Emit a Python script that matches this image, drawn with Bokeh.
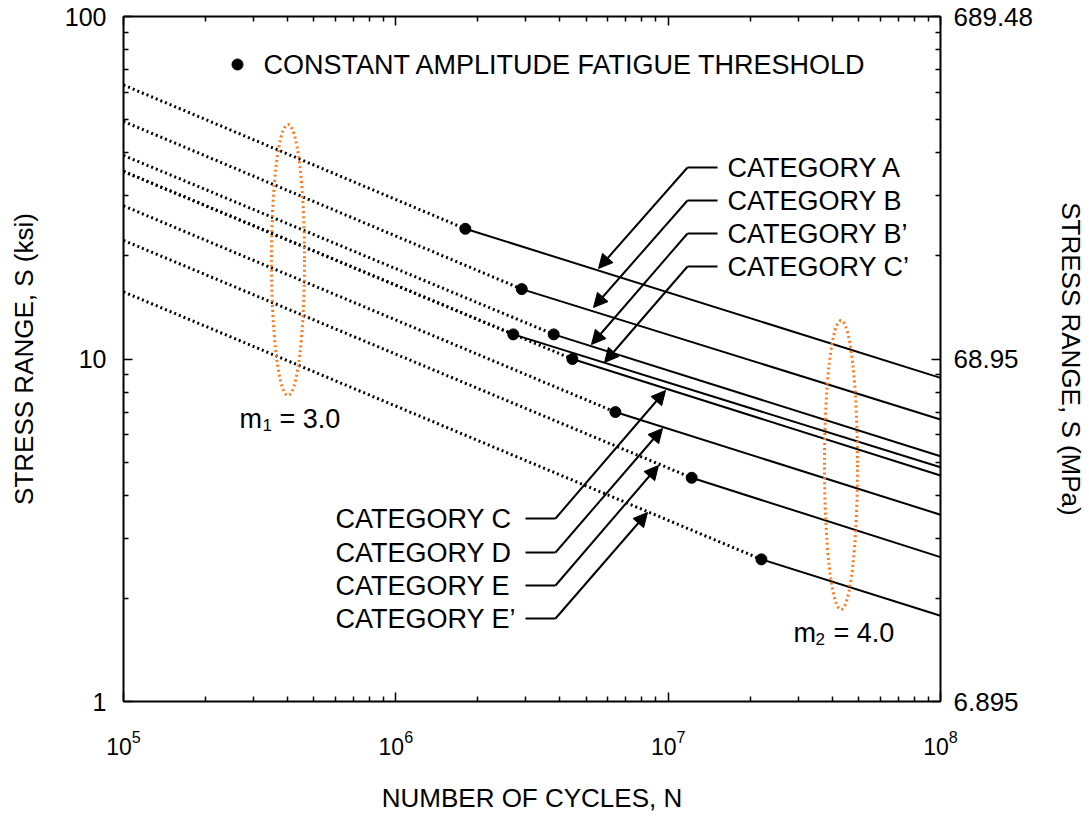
from bokeh.plotting import figure
from bokeh.models import LogAxis, FixedTicker, Arrow, NormalHead, Label, Range1d, LogTickFormatter
from bokeh.embed import file_html
from bokeh.resources import INLINE

# ---------------- data ----------------
categories = ["A", "B", "B’", "C", "C’", "D", "E", "E’"]
n_start = 1e5
n_end = 1e8
s_start = [63.1, 49.4, 39.3, 35.3, 35.3, 28.0, 22.2, 15.7]          # ksi at N = 1e5 (m1 = 3 branch)
n_threshold = [1.8e6, 2.9e6, 3.8e6, 4.45e6, 2.7e6, 6.4e6, 1.22e7, 2.2e7]
s_threshold = [24.0, 16.0, 11.8, 10.0, 11.8, 7.0, 4.5, 2.6]         # CAFT, ksi
s_end = [8.81, 6.66, 5.20, 4.57, 4.83, 3.51, 2.64, 1.78]            # ksi at N = 1e8 (m2 = 4 branch)

x_ticks = [1e5, 1e6, 1e7, 1e8]          # labelled 10^5 ... 10^8 by the log formatter
y_ticks = [1, 10, 100]
ksi_tick_labels = ["1", "10", "100"]
mpa_tick_labels = ["6.895", "68.95", "689.48"]

FONT = "Liberation Sans"
ORANGE = "#ff781e"
DOT = "2 3"
TXT = "27px"

# frame geometry in page pixels (used only to place annotations)
FX0, FX1, FY0, FY1 = 123.0, 940.0, 16.0, 701.0


def at(xp, yp):
    """page pixel -> data coordinates on the log/log frame"""
    x = 10 ** (5 + 3 * (xp - FX0) / (FX1 - FX0))
    y = 10 ** (2 - 2 * (yp - FY0) / (FY1 - FY0))
    return x, y


p = figure(width=1089, height=822, x_axis_type="log", y_axis_type="log",
           x_range=Range1d(1e5, 1e8), y_range=Range1d(1, 100),
           output_backend="svg", toolbar_location=None,
           min_border_left=123, min_border_right=149, min_border_top=16,
           min_border_bottom=121)
p.grid.visible = False
p.outline_line_color = None
p.background_fill_color = "white"
p.border_fill_color = "white"

x_minor = [m * 10 ** k for k in range(5, 8) for m in range(2, 10)]
y_minor = [m * 10 ** k for k in range(0, 2) for m in range(2, 10)]


def style(ax, size="25px"):
    ax.axis_line_width = 2
    ax.axis_line_color = "black"
    ax.major_tick_line_width = 1.5
    ax.minor_tick_line_width = 1.5
    ax.major_tick_in = 9
    ax.major_tick_out = 0
    ax.minor_tick_in = 5
    ax.minor_tick_out = 0
    ax.major_label_text_font = FONT
    ax.major_label_text_font_size = size
    ax.major_label_text_color = "black"
    ax.axis_label_text_font = FONT
    ax.axis_label_text_font_size = "26px"
    ax.axis_label_text_font_style = "normal"
    ax.axis_label_text_color = "black"


# bottom axis: 10^n labels with real superscripts from the log formatter
xa = p.xaxis[0]
xa.ticker = FixedTicker(ticks=x_ticks, minor_ticks=x_minor)
xa.formatter = LogTickFormatter()
style(xa, "23px")
xa.major_label_standoff = 28
xa.axis_label = "NUMBER OF CYCLES, N"
xa.axis_label_standoff = 25

# left axis
ya = p.yaxis[0]
ya.ticker = FixedTicker(ticks=y_ticks, minor_ticks=y_minor)
ya.major_label_overrides = dict(zip(y_ticks, ksi_tick_labels))
style(ya, "25px")
ya.major_label_standoff = 17
ya.axis_label = "STRESS RANGE, S (ksi)"
ya.axis_label_standoff = 23

# right axis (MPa equivalents of the same range)
ra = LogAxis(ticker=FixedTicker(ticks=y_ticks, minor_ticks=y_minor))
ra.major_label_overrides = dict(zip(y_ticks, mpa_tick_labels))
style(ra, "26px")
ra.major_label_standoff = 13
ra.axis_label = "STRESS RANGE, S (MPa)"
ra.axis_label_standoff = 20
p.add_layout(ra, "right")

# top axis (ticks only)
ta = LogAxis(ticker=FixedTicker(ticks=x_ticks, minor_ticks=x_minor))
style(ta, "0px")
ta.major_label_overrides = {t: "" for t in x_ticks}
ta.major_label_standoff = 0
p.add_layout(ta, "above")

# ---------------- S-N curves ----------------
p.segment(x0=[n_start] * len(categories), y0=s_start, x1=n_threshold, y1=s_threshold,
          line_color="black", line_width=3, line_dash=DOT)
p.segment(x0=n_threshold, y0=s_threshold, x1=[n_end] * len(categories), y1=s_end,
          line_color="black", line_width=2)
p.scatter(n_threshold, s_threshold, size=11, color="black")


def label(xp, yp, text, size=TXT, align="left"):
    x, y = at(xp, yp)
    p.add_layout(Label(x=x, y=y, text=text, text_font=FONT, text_font_size=size,
                       text_baseline="middle", text_align=align, text_color="black"))


# ---------------- legend entry ----------------
lx, ly = at(237, 64)
p.scatter([lx], [ly], size=11, color="black")
label(263, 64, "CONSTANT AMPLITUDE FATIGUE THRESHOLD")

# ---------------- slope ellipses ----------------
e1 = at(287.5, 259.5)
e2 = at(840.5, 464.5)
p.ellipse(x=[e1[0], e2[0]], y=[e1[1], e2[1]], width=33, height=[271, 289],
          width_units="screen", height_units="screen", fill_color=None,
          line_color=ORANGE, line_width=3, line_dash=DOT)
label(239, 418, "m")
label(262, 424, "1", size="17px")
label(279, 418, "= 3.0")
label(793, 632, "m")
label(815, 638, "2", size="17px")
label(833, 632, "= 4.0")

# ---------------- category call-outs ----------------
right_callouts = [("CATEGORY A", 167, (598, 268)),
                  ("CATEGORY B", 200, (593, 307)),
                  ("CATEGORY B’", 233, (591, 344)),
                  ("CATEGORY C’", 266, (604, 362))]
left_callouts = [("CATEGORY C", 518, (665, 390)),
                 ("CATEGORY D", 552, (662, 428)),
                 ("CATEGORY E", 585, (658, 465)),
                 ("CATEGORY E’", 618, (647, 512))]


def callout(text, text_x, yp, lead_a, lead_b, tip):
    label(text_x, yp, text)
    a = at(lead_a, yp)
    b = at(lead_b, yp)
    p.line([a[0], b[0]], [a[1], b[1]], line_color="black", line_width=2)
    t = at(*tip)
    p.add_layout(Arrow(end=NormalHead(size=14, fill_color="black", line_color="black", line_width=1),
                       x_start=b[0], y_start=b[1], x_end=t[0], y_end=t[1],
                       line_color="black", line_width=2))


for text, yp, tip in right_callouts:
    callout(text, 727, yp, 717, 687, tip)
for text, yp, tip in left_callouts:
    callout(text, 335, yp, 525, 555, tip)

open("out.html", "w").write(file_html(p, INLINE))
